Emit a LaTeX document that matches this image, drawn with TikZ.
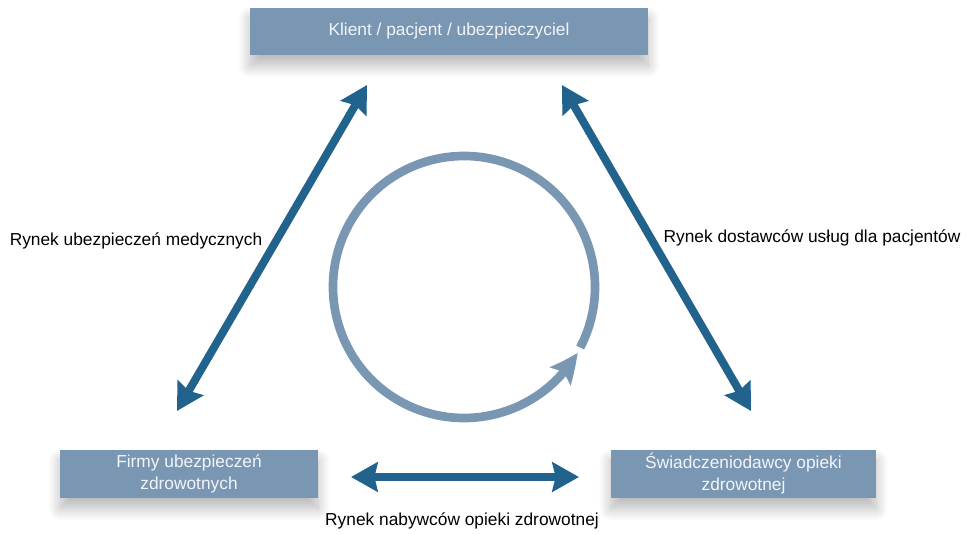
\documentclass[tikz,border=0pt]{standalone}
\usepackage{fontspec}
\setmainfont{Liberation Sans}
\usepackage{tikz}
\usetikzlibrary{
  arrows.meta, % for Stealth arrow tips
  bending, % so the arrow tip follows the arc
  shadows.blur, % soft shadow under the boxes
  positioning,
}
\definecolor{boxblue}{RGB}{121,150,179}
\definecolor{arrowblue}{RGB}{33,99,140}
\definecolor{boxtext}{RGB}{242,245,248}
\tikzset{
  market/.style={ % style for each market box
    rectangle,fill=boxblue, % flat blue rectangle
    text=boxtext,align=center,
    font=\fontsize{13}{16.5}\selectfont,
    inner sep=0pt,
    blur shadow={shadow xshift=0pt,shadow yshift=-8pt,shadow blur radius=9pt,shadow blur steps=14,shadow opacity=28},
  },
  link/.style={ % style for the double headed links
    {Stealth[length=20pt,width=22pt,inset=2.5pt]}-{Stealth[length=20pt,width=22pt,inset=2.5pt]},
    line width=6pt,draw=arrowblue,
  },
  cycle/.style={ % style for the circular arrow
    -{Stealth[length=22pt,width=20pt,inset=4pt,bend]},
    line width=6.5pt,draw=boxblue,
  },
  lbl/.style={ % style for the market names
    font=\fontsize{13}{16}\selectfont,text=black,
  },
}
\begin{document}
\begin{tikzpicture}[x=0.75pt,y=0.75pt]
	\useasboundingbox (0,0) rectangle (967,-533);
	
	\node[market,minimum width=298.5pt,minimum height=35.5pt] (klient) at (449,-31.5) {Klient / pacjent / ubezpieczyciel};
	
	\node[market,minimum width=193.5pt,minimum height=36pt] (firmy) at (189,-474) {Firmy ubezpieczeń\\zdrowotnych};
	
	\node[market,minimum width=199pt,minimum height=36pt] (swiad) at (743.5,-474) {Świadczeniodawcy opieki\\zdrowotnej};
	
	% ends of the links
	\coordinate (kl-l) at (367,-85);
	\coordinate (kl-r) at (562,-85);
	\coordinate (fi-t) at (177,-411);
	\coordinate (fi-r) at (351,-477);
	\coordinate (sw-t) at (751,-411);
	\coordinate (sw-l) at (579,-477);
	
	\draw[link] (kl-l) -- (fi-t);
	\draw[link] (kl-r) -- (sw-t);
	\draw[link] (fi-r) -- (sw-l);
	
	\node[lbl] (ubez) at (136,-241) {Rynek ubezpieczeń medycznych};
	\node[lbl] (dost) at (812,-238) {Rynek dostawców usług dla pacjentów};
	\node[lbl] (nab) at (462,-521) {Rynek nabywców opieki zdrowotnej};
	
	% circular flow in the middle
	\draw[cycle] (464,-287) ++(-27.5:131) arc[start angle=-27.5,end angle=330,radius=131];
\end{tikzpicture}
\end{document}
